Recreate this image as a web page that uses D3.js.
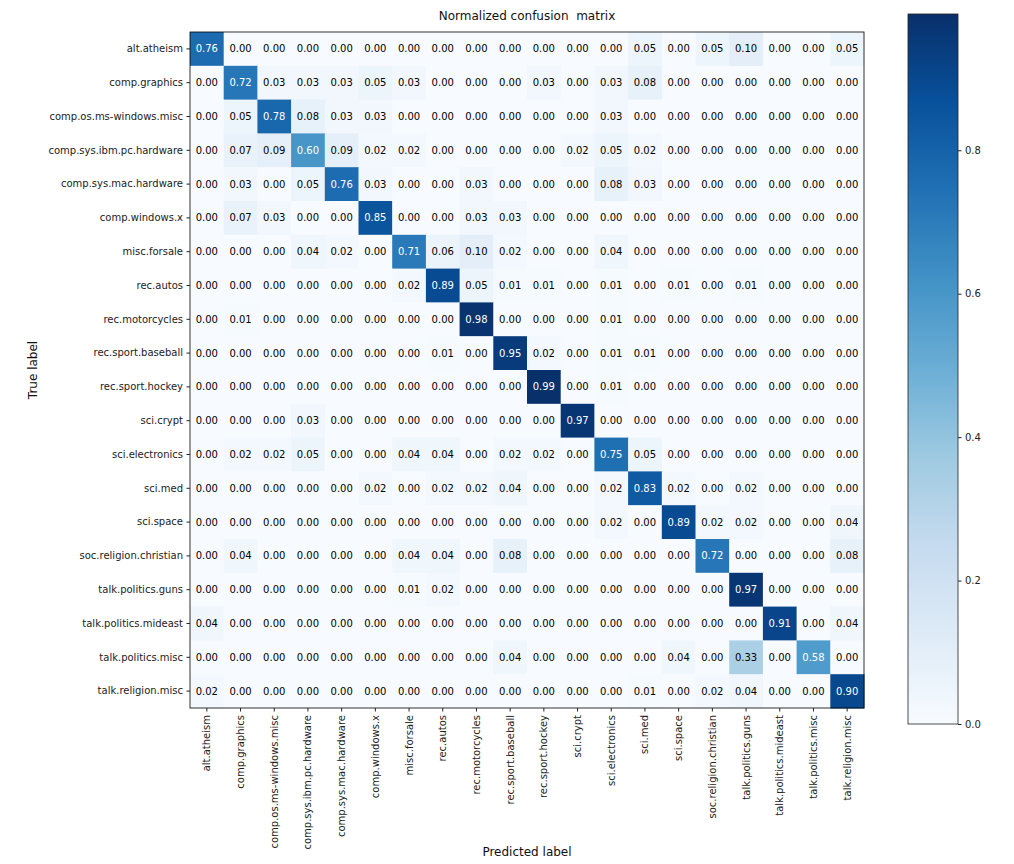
<!DOCTYPE html>
<html>
<head>
<meta charset="utf-8">
<script src="https://cdn.jsdelivr.net/npm/d3@7"></script>
<style>
  body { margin: 0; background: #fff; }
  svg, svg text { font-family: "DejaVu Sans", sans-serif; }
  .tick text { fill: #222; font-size: 10px; }
  .tick line { stroke: #222; }
</style>
</head>
<body>
<svg class="chart" width="1014" height="864"></svg>
<script>
const classes = [
  'alt.atheism', 'comp.graphics', 'comp.os.ms-windows.misc', 'comp.sys.ibm.pc.hardware',
  'comp.sys.mac.hardware', 'comp.windows.x', 'misc.forsale', 'rec.autos',
  'rec.motorcycles', 'rec.sport.baseball', 'rec.sport.hockey', 'sci.crypt',
  'sci.electronics', 'sci.med', 'sci.space', 'soc.religion.christian',
  'talk.politics.guns', 'talk.politics.mideast', 'talk.politics.misc', 'talk.religion.misc',
];

// rows = true label, columns = predicted label
const cm = [
  [0.76, 0, 0, 0, 0, 0, 0, 0, 0, 0, 0, 0, 0, 0.05, 0, 0.05, 0.10, 0, 0, 0.05],
  [0, 0.72, 0.03, 0.03, 0.03, 0.05, 0.03, 0, 0, 0, 0.03, 0, 0.03, 0.08, 0, 0, 0, 0, 0, 0],
  [0, 0.05, 0.78, 0.08, 0.03, 0.03, 0, 0, 0, 0, 0, 0, 0.03, 0, 0, 0, 0, 0, 0, 0],
  [0, 0.07, 0.09, 0.60, 0.09, 0.02, 0.02, 0, 0, 0, 0, 0.02, 0.05, 0.02, 0, 0, 0, 0, 0, 0],
  [0, 0.03, 0, 0.05, 0.76, 0.03, 0, 0, 0.03, 0, 0, 0, 0.08, 0.03, 0, 0, 0, 0, 0, 0],
  [0, 0.07, 0.03, 0, 0, 0.85, 0, 0, 0.03, 0.03, 0, 0, 0, 0, 0, 0, 0, 0, 0, 0],
  [0, 0, 0, 0.04, 0.02, 0, 0.71, 0.06, 0.10, 0.02, 0, 0, 0.04, 0, 0, 0, 0, 0, 0, 0],
  [0, 0, 0, 0, 0, 0, 0.02, 0.89, 0.05, 0.01, 0.01, 0, 0.01, 0, 0.01, 0, 0.01, 0, 0, 0],
  [0, 0.01, 0, 0, 0, 0, 0, 0, 0.98, 0, 0, 0, 0.01, 0, 0, 0, 0, 0, 0, 0],
  [0, 0, 0, 0, 0, 0, 0, 0.01, 0, 0.95, 0.02, 0, 0.01, 0.01, 0, 0, 0, 0, 0, 0],
  [0, 0, 0, 0, 0, 0, 0, 0, 0, 0, 0.99, 0, 0.01, 0, 0, 0, 0, 0, 0, 0],
  [0, 0, 0, 0.03, 0, 0, 0, 0, 0, 0, 0, 0.97, 0, 0, 0, 0, 0, 0, 0, 0],
  [0, 0.02, 0.02, 0.05, 0, 0, 0.04, 0.04, 0, 0.02, 0.02, 0, 0.75, 0.05, 0, 0, 0, 0, 0, 0],
  [0, 0, 0, 0, 0, 0.02, 0, 0.02, 0.02, 0.04, 0, 0, 0.02, 0.83, 0.02, 0, 0.02, 0, 0, 0],
  [0, 0, 0, 0, 0, 0, 0, 0, 0, 0, 0, 0, 0.02, 0, 0.89, 0.02, 0.02, 0, 0, 0.04],
  [0, 0.04, 0, 0, 0, 0, 0.04, 0.04, 0, 0.08, 0, 0, 0, 0, 0, 0.72, 0, 0, 0, 0.08],
  [0, 0, 0, 0, 0, 0, 0.01, 0.02, 0, 0, 0, 0, 0, 0, 0, 0, 0.97, 0, 0, 0],
  [0.04, 0, 0, 0, 0, 0, 0, 0, 0, 0, 0, 0, 0, 0, 0, 0, 0, 0.91, 0, 0.04],
  [0, 0, 0, 0, 0, 0, 0, 0, 0, 0.04, 0, 0, 0, 0, 0.04, 0, 0.33, 0, 0.58, 0],
  [0.02, 0, 0, 0, 0, 0, 0, 0, 0, 0, 0, 0, 0, 0.01, 0, 0.02, 0.04, 0, 0, 0.90],
];

const cbarTicks = [0, 0.2, 0.4, 0.6, 0.8];

const svg = d3.select('.chart');
const box = { left: 190, right: 864, top: 32, bottom: 708 };
const vmax = d3.max(cm.flat());
const thresh = vmax / 2;

// matplotlib "Blues" = linear blend of the 9 ColorBrewer stops
const blues = d3.schemeBlues[9];
const color = d3.scaleLinear()
  .domain(blues.map((c, i) => (i / 8) * vmax))
  .range(blues)
  .interpolate(d3.interpolateRgb)
  .clamp(true);

const x = d3.scaleBand().domain(classes).range([box.left, box.right]);
const y = d3.scaleBand().domain(classes).range([box.top, box.bottom]);

const cells = [];
cm.forEach((row, i) => {
  row.forEach((v, j) => {
    cells.push({ t: classes[i], p: classes[j], v });
  });
});

svg.append('g').selectAll('rect')
  .data(cells)
  .enter()
  .append('rect')
  .attr('x', d => x(d.p))
  .attr('y', d => y(d.t))
  .attr('width', x.bandwidth() + 0.5)
  .attr('height', y.bandwidth() + 0.5)
  .attr('fill', d => color(d.v));

svg.append('g').selectAll('text')
  .data(cells)
  .enter()
  .append('text')
  .attr('x', d => x(d.p) + x.bandwidth() / 2)
  .attr('y', d => y(d.t) + y.bandwidth() / 2)
  .attr('dy', '0.35em')
  .attr('text-anchor', 'middle')
  .attr('font-size', 10)
  .attr('fill', d => (d.v > thresh ? '#fff' : '#000'))
  .text(d => d.v.toFixed(2));

svg.append('rect')
  .attr('x', box.left)
  .attr('y', box.top)
  .attr('width', box.right - box.left)
  .attr('height', box.bottom - box.top)
  .attr('fill', 'none')
  .attr('stroke', '#000')
  .attr('stroke-width', 0.8);

const yAxis = svg.append('g')
  .attr('transform', `translate(${box.left},0)`)
  .call(d3.axisLeft(y).tickSize(3.5).tickPadding(3.5));
yAxis.select('.domain').remove();

const xAxis = svg.append('g')
  .attr('transform', `translate(0,${box.bottom})`)
  .call(d3.axisBottom(x).tickSize(3.5).tickPadding(3.5));
xAxis.select('.domain').remove();
xAxis.selectAll('text')
  .attr('transform', 'rotate(-90)')
  .attr('x', -7)
  .attr('y', 0)
  .attr('dy', '0.35em')
  .attr('text-anchor', 'end');

svg.append('text')
  .attr('x', (box.left + box.right) / 2)
  .attr('y', 20)
  .attr('text-anchor', 'middle')
  .attr('font-size', 12)
  .style('white-space', 'pre')
  .attr('fill', '#111')
  .text('Normalized confusion  matrix');

svg.append('text')
  .attr('x', (box.left + box.right) / 2)
  .attr('y', 856)
  .attr('text-anchor', 'middle')
  .attr('font-size', 12)
  .attr('fill', '#111')
  .text('Predicted label');

svg.append('text')
  .attr('transform', `translate(37,${(box.top + box.bottom) / 2}) rotate(-90)`)
  .attr('text-anchor', 'middle')
  .attr('font-size', 12)
  .attr('fill', '#111')
  .text('True label');

// colorbar
const cb = { left: 908, right: 958, top: 14, bottom: 724 };
const grad = svg.append('defs').append('linearGradient')
  .attr('id', 'cbgrad')
  .attr('x1', 0).attr('y1', 1).attr('x2', 0).attr('y2', 0);
grad.selectAll('stop')
  .data(blues)
  .enter()
  .append('stop')
  .attr('offset', (c, i) => i / 8)
  .attr('stop-color', c => c);

svg.append('rect')
  .attr('x', cb.left)
  .attr('y', cb.top)
  .attr('width', cb.right - cb.left)
  .attr('height', cb.bottom - cb.top)
  .attr('fill', 'url(#cbgrad)')
  .attr('stroke', '#222')
  .attr('stroke-width', 0.8);

const cbScale = d3.scaleLinear().domain([0, vmax]).range([cb.bottom, cb.top]);
const cbAxis = svg.append('g')
  .attr('transform', `translate(${cb.right},0)`)
  .call(d3.axisRight(cbScale).tickValues(cbarTicks).tickFormat(d3.format('.1f'))
    .tickSize(3.5).tickPadding(3.5));
cbAxis.select('.domain').remove();

// d3 axes set font-family="sans-serif" on their groups; put DejaVu back
svg.selectAll('.tick text').attr('font-family', '"DejaVu Sans", sans-serif');
[xAxis, yAxis, cbAxis].forEach(g => g.attr('font-family', null));
</script>
</body>
</html>
